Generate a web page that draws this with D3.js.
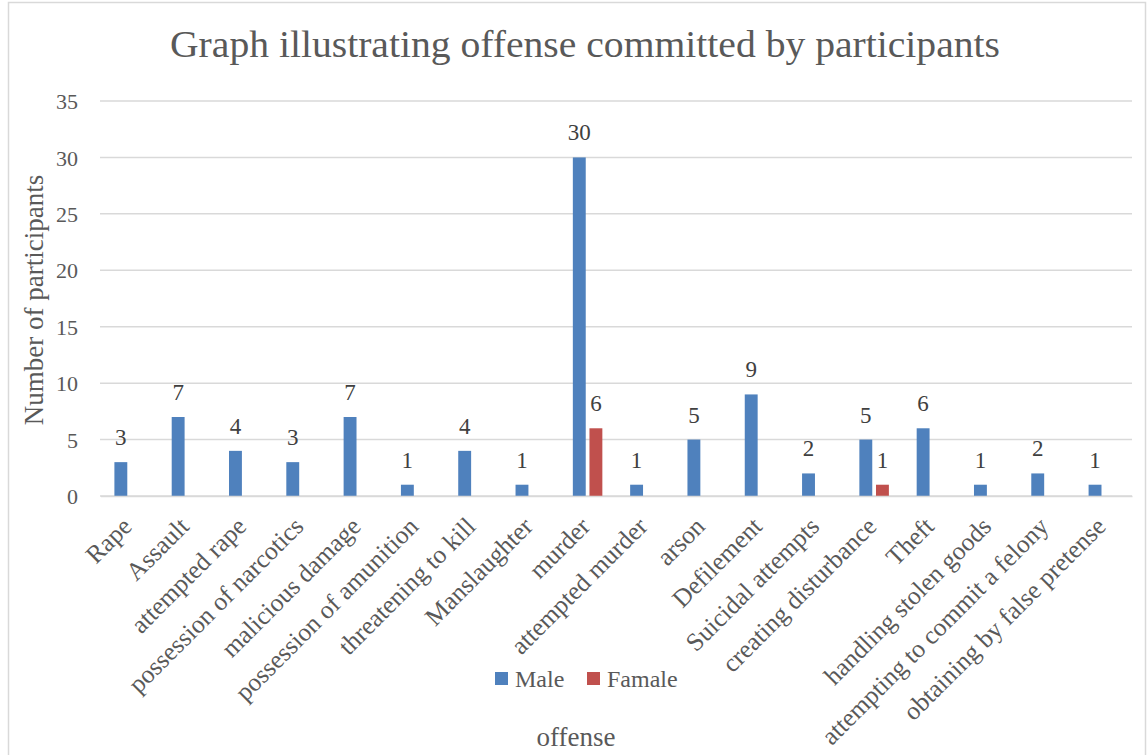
<!DOCTYPE html>
<html><head><meta charset="utf-8">
<script src="https://cdn.jsdelivr.net/npm/d3@7"></script>
<style>body{margin:0;background:#fff}svg{display:block}text{font-family:"Liberation Serif",serif}</style>
</head><body><div id="chart"></div>
<script>
const categories = ["Rape","Assault","attempted rape","possession of narcotics","malicious damage","possession of amunition","threatening to kill","Manslaughter","murder","attempted murder","arson","Defilement","Suicidal attempts","creating disturbance","Theft","handling stolen goods","attempting to commit a felony","obtaining by false pretense"];
const male = [3,7,4,3,7,1,4,1,30,1,5,9,2,5,6,1,2,1];
const female = [null,null,null,null,null,null,null,null,6,null,null,null,null,1,null,null,null,null];
const seriesNames = ["Male","Famale"];
const colors = ["#4f81bd","#c0504d"];
const yTicks = [0,5,10,15,20,25,30,35];
const title = "Graph illustrating offense committed by participants";

const W=1147,H=755;
const svg=d3.select("#chart").append("svg").attr("width",W).attr("height",H);
svg.append("rect").attr("x",8.5).attr("y",2.5).attr("width",1137).attr("height",760).attr("fill","#fff").attr("stroke","#d9d9d9").attr("stroke-width",1.5);

const x0=d3.scaleBand().domain(categories).range([100.5,1132]).paddingInner(0).paddingOuter(0);
const y=d3.scaleLinear().domain([0,35]).range([496,101]);
const bw=x0.bandwidth()*0.225;
const gap=x0.bandwidth()*0.065;
const xOff=(s,i)=>x0.bandwidth()/2 + (i===0 ? -gap/2-bw : gap/2);

svg.append("g").selectAll("line").data(yTicks).join("line")
 .attr("x1",100).attr("x2",1132).attr("y1",d=>y(d)).attr("y2",d=>y(d))
 .attr("stroke","#d9d9d9").attr("stroke-width",1.5);

const yAxis=d3.axisLeft(y).tickValues(yTicks).tickSize(0).tickPadding(0);
const gy=svg.append("g").attr("transform","translate(78,0)").call(yAxis);
gy.select(".domain").remove();
gy.selectAll("text").attr("font-size",22).attr("fill","#595959").attr("font-family","Liberation Serif").attr("dy","0.35em");

const rows=[male,female];
rows.forEach((vals,si)=>{
  const data=categories.map((c,i)=>({c,v:vals[i]})).filter(d=>d.v!=null);
  const g=svg.append("g");
  g.selectAll("rect").data(data).join("rect")
   .attr("x",d=>x0(d.c)+xOff(seriesNames[si],si)).attr("width",bw)
   .attr("y",d=>y(d.v)).attr("height",d=>y(0)-y(d.v)).attr("fill",colors[si]);
  g.selectAll("text").data(data).join("text")
   .attr("x",d=>x0(d.c)+xOff(seriesNames[si],si)+bw/2).attr("y",d=>y(d.v)-17)
   .attr("text-anchor","middle").attr("font-size",23).attr("fill","#404040").text(d=>d.v);
});

const xAxis=d3.axisBottom(x0).tickSize(0).tickPadding(0);
const gx=svg.append("g").attr("transform","translate(0,496)").call(xAxis);
gx.select(".domain").attr("stroke","#d9d9d9").attr("stroke-width",1.5);
gx.selectAll("text").attr("font-size",25.5).attr("fill","#595959").attr("font-family","Liberation Serif")
  .attr("text-anchor","end").attr("dy",0).attr("y",0)
  .attr("transform","translate(4,32) rotate(-45)");

svg.append("text").attr("x",585).attr("y",57).attr("text-anchor","middle").attr("font-size",37)
  .attr("textLength",830).attr("lengthAdjust","spacingAndGlyphs").attr("fill","#595959").text(title);
svg.append("text").attr("transform","translate(43,300) rotate(-90)").attr("text-anchor","middle").attr("font-size",27).attr("fill","#595959").text("Number of participants");
svg.append("text").attr("x",576).attr("y",746).attr("text-anchor","middle").attr("font-size",27).attr("fill","#595959").text("offense");

const leg=svg.append("g");
const lx=[495,587];
seriesNames.forEach((n,i)=>{
  leg.append("rect").attr("x",lx[i]).attr("y",672).attr("width",13).attr("height",13).attr("fill",colors[i]);
  leg.append("text").attr("x",lx[i]+20).attr("y",687).attr("font-size",24).attr("fill","#595959").text(n);
});
</script></body></html>
